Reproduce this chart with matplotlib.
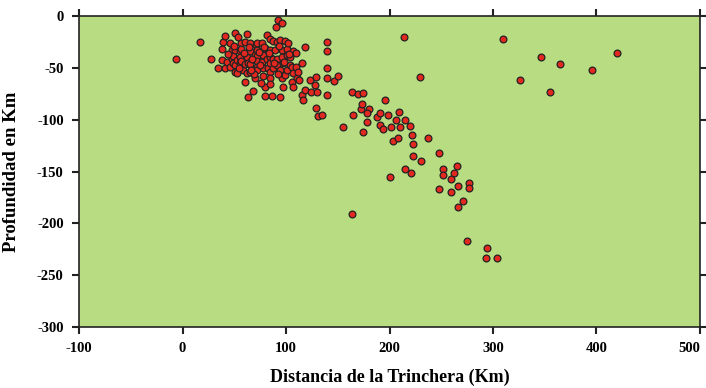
import matplotlib
matplotlib.use("Agg")
import matplotlib.pyplot as plt

plt.rcParams['axes.unicode_minus'] = False
plt.rcParams['font.family'] = ['Liberation Serif', 'DejaVu Serif']

# distancia a la trinchera (km) y profundidad (km)
distancia = [
    -6, 17, 28, 34, 38, 38, 39, 41, 41, 43, 46, 46, 48, 48, 49, 49, 51, 51, 51, 51,
    53, 53, 54, 56, 56, 56, 57, 57, 57, 58, 60, 60, 60, 62, 62, 62, 63, 63, 65, 65,
    65, 65, 68, 70, 70, 71, 72, 72, 72, 72, 72, 72, 77, 77, 78, 78, 78, 80, 80, 80,
    82, 82, 83, 85, 85, 85, 85, 85, 85, 85, 86, 87, 87, 87, 89, 90, 91, 91, 91, 92,
    94, 94, 94, 96, 96, 96, 96, 97, 97, 99, 99, 101, 101, 101, 102, 104, 104, 106, 106, 107,
    107, 107, 110, 110, 111, 112, 113, 115, 115, 116, 118, 118, 123, 124, 128, 129, 129, 130, 131, 135,
    140, 140, 140, 140, 140, 146, 150, 155, 164, 164, 165, 170, 172, 173, 174, 174, 180, 178, 178, 188,
    191, 191, 194, 196, 199, 200, 201, 203, 206, 208, 209, 210, 215, 215, 220, 221, 222, 223, 223, 214,
    229, 230, 237, 248, 248, 252, 252, 259, 259, 262, 265, 266, 266, 271, 277, 277, 275, 294, 293, 304,
    310, 346, 365, 326, 355, 396, 420,
    44, 50, 55, 59, 64, 67, 69, 74, 75, 79, 84, 88, 93, 98, 103, 66, 76, 92,
]
profundidad = [
    -41, -25, -41, -50, -32, -42, -25, -19, -50, -44, -26, -49, -33, -41, -39, -45, -16, -33, -47, -54,
    -42, -55, -20, -34, -40, -45, -26, -32, -43, -52, -25, -46, -64, -17, -40, -55, -45, -78, -26, -34,
    -46, -54, -72, -38, -60, -28, -26, -33, -39, -43, -49, -52, -26, -44, -38, -50, -58, -31, -68, -77,
    -18, -41, -50, -22, -33, -40, -45, -54, -60, -66, -77, -24, -41, -50, -33, -11, -25, -41, -47, -4,
    -23, -52, -78, -7, -33, -40, -60, -45, -68, -24, -57, -32, -38, -52, -26, -40, -47, -49, -64, -34,
    -55, -68, -36, -49, -60, -54, -62, -45, -76, -81, -30, -71, -62, -73, -67, -59, -89, -73, -96, -95,
    -25, -34, -50, -60, -76, -63, -58, -107, -73, -191, -95, -75, -90, -85, -74, -112, -90, -94, -102, -97,
    -94, -105, -109, -81, -95, -155, -107, -121, -100, -118, -93, -107, -100, -148, -106, -151, -115, -123, -135, -20,
    -59, -140, -118, -132, -167, -148, -153, -157, -170, -151, -145, -164, -184, -178, -161, -166, -217, -224, -233, -233,
    -22, -40, -46, -62, -73, -52, -36,
    -37, -29, -50, -36, -30, -41, -56, -35, -47, -30, -36, -45, -29, -44, -37, -52, -65, -56,
]

x_ticks = [-100, 0, 100, 200, 300, 400, 500]
y_ticks = [0, -50, -100, -150, -200, -250, -300]

fig = plt.figure(figsize=(7.06, 3.88), dpi=100)
ax = fig.add_axes([0.1119, 0.1572, 0.8796, 0.8015])
ax.set_facecolor('#b7dc81')

ax.scatter(distancia, profundidad, s=24, c='#e2281f', edgecolors='#222222',
           linewidths=0.9, zorder=3)

ax.set_xlim(-100, 500)
ax.set_ylim(-300, 0)
ax.set_xticks(x_ticks)
ax.set_yticks(y_ticks)
ax.tick_params(axis='both', direction='out', length=5, width=1.5, color='#222222',
               top=True, right=True, labelsize=10.5, pad=6)
for lab in ax.get_xticklabels() + ax.get_yticklabels():
    lab.set_fontweight('bold')
ax.get_xticklabels()[-1].set_horizontalalignment('right')
for s in ax.spines.values():
    s.set_linewidth(1.2)
    s.set_color('#222222')

ax.set_xlabel('Distancia de la Trinchera (Km)', fontsize=13, fontweight='bold', labelpad=10)
ax.set_ylabel('Profundidad en Km', fontsize=13.5, fontweight='bold', labelpad=12)

plt.savefig('out.png', dpi=100)
